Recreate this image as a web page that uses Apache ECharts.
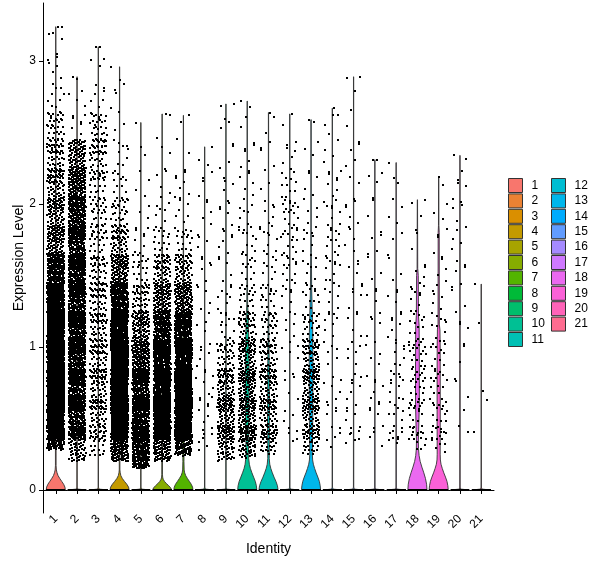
<!DOCTYPE html>
<html>
<head>
<meta charset="utf-8">
<script src="https://cdn.jsdelivr.net/npm/echarts@6/dist/echarts.min.js"></script>
<style>html,body{margin:0;padding:0;background:#fff}#c{width:600px;height:568px}</style>
</head>
<body>
<div id="c"></div>
<script>
// ---------------- DATA ----------------
const categories = ['1','2','3','4','5','6','7','8','9','10','11','12','13','14','15','16','17','18','19','20','21'];
const colors = ['#F8766D','#EB8233','#DA8F00','#C39A00','#A7A400','#86AC00','#53B400','#00BA38','#00BE6C','#00C094','#00C0B4','#00BDD2','#00B6EB','#00ABFD','#619CFF','#A58AFF','#CF78FF','#EB69F0','#FB61D7','#FF63B8','#FF6C90'];
const yTicks = [0, 1, 2, 3];
// maximum expression per identity (top of violin)
const clusterMax = [3.24, 2.89, 3.10, 2.96, 2.57, 2.63, 2.62, 2.40, 2.70, 2.72, 2.64, 2.63, 2.59, 2.67, 2.89, 2.31, 2.29, 2.03, 2.19, 2.34, 1.44];
// lowest non-zero expression per identity
const clusterMin = [0.28, 0.20, 0.22, 0.20, 0.14, 0.20, 0.24, 0.25, 0.20, 0.22, 0.25, 0.30, 0.25, 0.30, 0.30, 0.30, 0.30, 0.28, 0.26, 0.40, 0.38];
// cells with zero expression per identity
const zeroCounts = [150,150,150,150,150,150,150,150,150,150,150,150,150,150,150,150,150,150,150,150,150];
// non-zero cells per expression bin (bins of 0.2 starting at these lower edges)
const binLow = [0,0.2,0.4,0.6,0.8,1.0,1.2,1.4,1.6,1.8,2.0,2.2,2.4,2.6,2.8,3.0,3.2];
const binCounts = [
  [0,110,400,420,420,380,300,230,130,100,75,60,40,15,6,4,2],
  [0,80,210,220,220,220,220,220,210,200,190,130,8,5,2,0,0],
  [0,25,60,60,58,55,50,45,30,27,27,45,40,8,4,2,0],
  [0,180,360,360,340,300,240,160,70,35,16,9,5,3,2,0,0],
  [0,240,230,220,200,130,60,25,9,5,3,2,1,0,0,0,0],
  [0,150,280,280,260,220,150,70,25,9,5,3,2,0,0,0,0],
  [0,140,300,300,280,240,170,80,25,10,6,3,2,0,0,0,0],
  [0,6,8,7,6,5,5,5,5,5,4,3,0,0,0,0,0],
  [0,70,90,80,50,15,8,6,6,6,5,4,3,2,0,0,0],
  [0,70,110,110,90,55,25,15,12,9,6,5,3,2,0,0,0],
  [0,40,65,65,55,35,20,12,10,6,5,3,2,1,0,0,0],
  [0,3,4,5,5,6,8,10,15,15,15,6,3,0,0,0,0],
  [0,35,70,75,65,35,15,10,8,6,5,3,2,0,0,0,0],
  [0,4,5,6,6,7,8,10,10,10,8,5,3,2,0,0,0],
  [0,5,6,7,6,6,5,5,5,5,4,3,3,2,1,0,0],
  [0,3,5,6,5,5,5,4,4,3,3,2,0,0,0,0,0],
  [0,5,10,10,9,7,5,4,3,3,2,1,0,0,0,0,0],
  [0,10,18,20,20,15,10,6,3,2,1,0,0,0,0,0,0],
  [0,10,16,16,14,10,7,5,4,3,2,0,0,0,0,0,0],
  [0,1,2,2,3,3,4,4,5,5,4,3,0,0,0,0,0],
  [0,1,1,1,0,0,1,0,0,0,0,0,0,0,0,0,0]
];
// violin half-width profiles: [expression, half width in category units]
const violinProfiles = [
  [[0,0.45],[0.02,0.43],[0.04,0.37],[0.06,0.28],[0.08,0.19],[0.10,0.11],[0.12,0.06],[0.14,0.03],[0.17,0.015],[1.0,0.015],[2.0,0.01],[3.24,0.005]],
  [[0,0.45],[0.006,0.03],[0.02,0.008],[2.89,0.005]],
  [[0,0.45],[0.006,0.03],[0.02,0.008],[3.10,0.005]],
  [[0,0.45],[0.02,0.42],[0.04,0.34],[0.06,0.23],[0.08,0.13],[0.10,0.06],[0.12,0.03],[0.14,0.015],[2.96,0.005]],
  [[0,0.45],[0.006,0.03],[0.02,0.008],[2.57,0.005]],
  [[0,0.45],[0.015,0.40],[0.03,0.31],[0.045,0.20],[0.06,0.11],[0.075,0.05],[0.09,0.025],[0.11,0.015],[2.63,0.005]],
  [[0,0.45],[0.02,0.43],[0.04,0.37],[0.06,0.28],[0.08,0.19],[0.10,0.11],[0.12,0.06],[0.14,0.035],[0.2,0.025],[0.5,0.035],[0.8,0.035],[1.1,0.02],[1.5,0.01],[2.62,0.005]],
  [[0,0.45],[0.006,0.03],[0.02,0.008],[2.40,0.005]],
  [[0,0.45],[0.006,0.03],[0.02,0.008],[2.70,0.005]],
  [[0,0.45],[0.03,0.43],[0.06,0.38],[0.09,0.30],[0.12,0.22],[0.15,0.15],[0.18,0.10],[0.22,0.07],[0.3,0.06],[0.5,0.08],[0.8,0.09],[1.0,0.08],[1.2,0.05],[1.3,0.02],[1.6,0.01],[2.72,0.005]],
  [[0,0.45],[0.03,0.42],[0.06,0.35],[0.09,0.26],[0.12,0.18],[0.15,0.11],[0.18,0.06],[0.22,0.035],[0.5,0.045],[0.8,0.04],[1.0,0.025],[1.3,0.01],[2.64,0.005]],
  [[0,0.45],[0.006,0.03],[0.02,0.008],[2.63,0.005]],
  [[0,0.45],[0.03,0.43],[0.06,0.39],[0.09,0.32],[0.12,0.24],[0.15,0.17],[0.18,0.11],[0.21,0.075],[0.25,0.06],[0.5,0.08],[0.8,0.09],[1.1,0.08],[1.28,0.05],[1.4,0.03],[1.66,0.015],[1.8,0.008],[2.59,0.005]],
  [[0,0.45],[0.006,0.03],[0.02,0.008],[2.67,0.005]],
  [[0,0.45],[0.006,0.03],[0.02,0.008],[2.89,0.005]],
  [[0,0.45],[0.006,0.03],[0.02,0.008],[2.31,0.005]],
  [[0,0.45],[0.006,0.03],[0.02,0.008],[2.29,0.005]],
  [[0,0.45],[0.04,0.43],[0.08,0.38],[0.12,0.30],[0.16,0.21],[0.2,0.13],[0.24,0.08],[0.29,0.05],[0.35,0.045],[0.42,0.06],[0.6,0.09],[0.9,0.09],[1.15,0.08],[1.22,0.05],[1.5,0.04],[1.55,0.015],[2.03,0.005]],
  [[0,0.45],[0.03,0.43],[0.06,0.39],[0.09,0.32],[0.12,0.24],[0.15,0.17],[0.18,0.11],[0.21,0.08],[0.25,0.07],[0.6,0.075],[1.0,0.07],[1.12,0.06],[1.16,0.03],[1.8,0.025],[1.85,0.01],[2.19,0.005]],
  [[0,0.45],[0.006,0.03],[0.02,0.008],[2.34,0.005]],
  [[0,0.45],[0.006,0.03],[0.02,0.008],[1.44,0.005]]
];

// ---------------- BUILD ----------------
const FONT = '"Liberation Sans", Arial, sans-serif';
const binWidth = 0.2;
const jitterHalf = 0.4;
const spill = 0.25; // fraction of a bin that cells may spread into neighbouring bins (visual smoothing)
function frac(v){ return v - Math.floor(v); }

const points = [];
categories.forEach((cat, i) => {
  const c = i + 1;
  let g = 0;
  const ox = 0.13 * i, oy = 0.29 * i;
  const place = () => { g++; return [frac(0.5 + g * 0.7548776662 + ox), frac(0.5 + g * 0.5698402910 + oy)]; };
  for (let k = 0; k < zeroCounts[i]; k++) {
    const [u] = place();
    points.push([c + (u - 0.5) * 2 * jitterHalf, 0]);
  }
  binCounts[i].forEach((n, b) => {
    const lo = binLow[b];
    if (lo >= clusterMax[i]) return;
    const a = Math.max(lo - spill * binWidth, clusterMin[i]);
    const z = Math.min(lo + (1 + spill) * binWidth, clusterMax[i]);
    if (z <= a) return;
    for (let k = 0; k < n; k++) {
      const [u, v] = place();
      points.push([c + (u - 0.5) * 2 * jitterHalf, a + v * (z - a)]);
    }
  });
  const [u] = place();
  points.push([c + (u - 0.5) * 2 * jitterHalf, clusterMax[i]]);
});

const violinSeries = categories.map((name, i) => ({
  type: 'custom',
  name: name,
  data: [[i + 1, 0]],
  itemStyle: { color: colors[i] },
  z: 1,
  silent: true,
  animation: false,
  renderItem: function (params, api) {
    const c = i + 1;
    const prof = violinProfiles[i];
    const left = prof.map(p => api.coord([c - p[1], p[0]]));
    const right = prof.slice().reverse().map(p => api.coord([c + p[1], p[0]]));
    return {
      type: 'polygon',
      shape: { points: left.concat(right) },
      style: { fill: colors[i], stroke: '#333333', lineWidth: 0.9 }
    };
  }
}));

const pointSeries = {
  type: 'custom',
  name: 'cells',
  data: points,
  z: 2,
  silent: true,
  animation: false,
  progressive: 0,
  renderItem: function (params, api) {
    const p = api.coord([api.value(0), api.value(1)]);
    return {
      type: 'rect',
      shape: { x: Math.round(p[0]) - 1, y: Math.round(p[1]) - 1, width: 2, height: 2 },
      style: { fill: '#000' }
    };
  }
};

const xTicks = categories.map((_, i) => i + 1);

const legendBase = {
  orient: 'vertical',
  top: 178,
  padding: 0,
  itemWidth: 14,
  itemHeight: 14,
  itemGap: 0.4,
  icon: 'rect',
  selectedMode: false,
  itemStyle: { borderColor: '#333333', borderWidth: 1 },
  textStyle: { fontSize: 12, color: '#000', fontFamily: FONT, padding: [0, 0, 0, 4] }
};

const option = {
  backgroundColor: '#fff',
  animation: false,
  textStyle: { fontFamily: FONT },
  grid: { left: 43, right: 106, top: 3, bottom: 55, containLabel: false },
  graphic: [{
    type: 'text',
    x: 19,
    y: 258,
    rotation: Math.PI / 2,
    style: { text: 'Expression Level', fontSize: 14, fill: '#000', fontFamily: FONT, align: 'center', verticalAlign: 'middle' }
  }],
  legend: [
    Object.assign({}, legendBase, { left: 508, data: categories.slice(0, 11) }),
    Object.assign({}, legendBase, { left: 551, data: categories.slice(11) })
  ],
  xAxis: {
    type: 'value',
    min: 0.4,
    max: 21.6,
    name: 'Identity',
    nameLocation: 'middle',
    nameGap: 29,
    nameTextStyle: { fontSize: 14, color: '#000', fontFamily: FONT },
    axisLine: { show: true, lineStyle: { color: '#000', width: 1 } },
    axisTick: { show: true, length: 4, customValues: xTicks, lineStyle: { color: '#000', width: 1 } },
    axisLabel: { customValues: xTicks, rotate: 45, margin: 4, fontSize: 12, color: '#000', fontFamily: FONT, formatter: v => String(v) },
    splitLine: { show: false }
  },
  yAxis: {
    type: 'value',
    min: -0.161,
    max: 3.406,
    axisLine: { show: true, lineStyle: { color: '#000', width: 1 } },
    axisTick: { show: true, length: 4, customValues: yTicks, lineStyle: { color: '#000', width: 1 } },
    axisLabel: { customValues: yTicks, margin: 7, fontSize: 12, color: '#000', fontFamily: FONT },
    splitLine: { show: false }
  },
  series: violinSeries.concat([pointSeries])
};

const chart = echarts.init(document.getElementById('c'), null, { renderer: 'canvas' });
chart.setOption(option);
</script>
</body>
</html>
